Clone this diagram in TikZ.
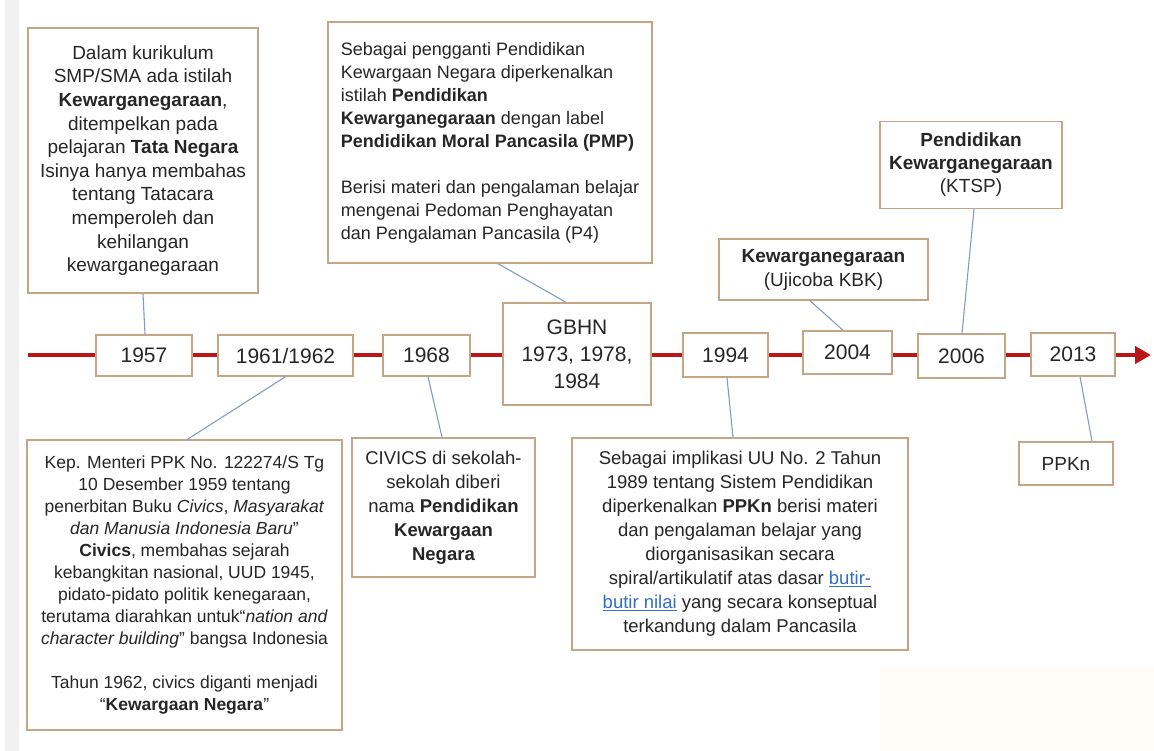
\documentclass[tikz,border=0pt]{standalone}
\usepackage{fontspec}
\setmainfont{Liberation Sans}
\usetikzlibrary{arrows.meta}
\definecolor{tlred}{RGB}{185,22,24}
\definecolor{boxline}{RGB}{196,166,134}
\definecolor{conn}{RGB}{128,158,188}
\definecolor{txt}{RGB}{38,38,38}
\definecolor{linkblue}{RGB}{51,110,200}
\newcommand{\lnk}[1]{\textcolor{linkblue}{\underline{#1}}}
\tikzset{
  box/.style={draw=boxline, line width=1.4pt, fill=white, text=txt, inner sep=0pt, align=center},
  yearbox/.style={box, minimum height=43pt, font=\fontsize{21}{26}\selectfont},
  note/.style={box, font=\fontsize{19}{23.6}\selectfont},
  conline/.style={draw=conn, line width=1.1pt},
  timeline/.style={draw=tlred, line width=4.5pt},
}
\begin{document}
\begin{tikzpicture}[x=1pt,y=-1pt]
\useasboundingbox (0,0) rectangle (1154,751);
\fill[white] (0,0) rectangle (1154,751);
\fill[gray!12] (5,0) rectangle (19,751);
\fill[orange!3] (880,668) rectangle (1154,751);

% timeline
\coordinate (tlstart) at (28,355);
\coordinate (tlend) at (1151,355);
\draw[timeline,-{Triangle[length=16pt,width=17pt]}] (tlstart) -- (tlend);

% year boxes
\node[yearbox, minimum width=96pt, minimum height=41pt] (y1957) at (144,355.5) {1957};
\node[yearbox, minimum width=135pt, minimum height=41pt] (y1961) at (285.5,355.5) {1961/1962};
\node[yearbox, minimum width=87pt, minimum height=41pt] (y1968) at (426.5,355.5) {1968};
\node[yearbox, minimum width=148pt, minimum height=102pt, font=\fontsize{21}{27}\selectfont] (gbhn) at (577,354) {GBHN\\1973, 1978,\\1984};
\node[yearbox, minimum width=85pt, minimum height=44pt] (y1994) at (725.5,355) {1994};
\node[yearbox, minimum width=89pt, minimum height=43pt] (y2004) at (847.5,352.5) {2004};
\node[yearbox, minimum width=87pt, minimum height=44pt] (y2006) at (961.5,356) {2006};
\node[yearbox, minimum width=84pt, minimum height=43pt] (y2013) at (1073,354.5) {2013};

% upper notes
\node[note, minimum width=230pt, minimum height=265pt] (A) at (143,160.5) {Dalam kurikulum\\SMP/SMA ada istilah\\\textbf{Kewarganegaraan},\\ditempelkan pada\\pelajaran \textbf{Tata Negara}\\Isinya hanya membahas\\tentang Tatacara\\memperoleh dan\\kehilangan\\kewarganegaraan};

\node[note, align=left, minimum width=324pt, minimum height=241pt, font=\fontsize{18}{23}\selectfont] (B) at (490,142.5) {Sebagai pengganti Pendidikan\\Kewargaan Negara diperkenalkan\\istilah \textbf{Pendidikan}\\\textbf{Kewarganegaraan} dengan label\\\textbf{Pendidikan Moral Pancasila (PMP)}\\[23pt]Berisi materi dan pengalaman belajar\\mengenai Pedoman Penghayatan\\dan Pengalaman Pancasila (P4)};

\node[note, minimum width=182pt, minimum height=87pt, font=\fontsize{19}{23}\selectfont] (C) at (971,165) {\textbf{Pendidikan}\\\textbf{Kewarganegaraan}\\(KTSP)};

\node[note, minimum width=209pt, minimum height=61pt, font=\fontsize{19}{24}\selectfont] (D) at (823.5,269.5) {\textbf{Kewarganegaraan}\\(Ujicoba KBK)};

% lower notes
\node[note, minimum width=315pt, minimum height=290pt, font=\fontsize{17.5}{22}\selectfont] (E) at (184.5,585) {Kep. Menteri PPK No. 122274/S Tg\\10 Desember 1959 tentang\\penerbitan Buku \textit{Civics}, \textit{Masyarakat}\\\textit{dan Manusia Indonesia Baru}”\\\textbf{Civics}, membahas sejarah\\kebangkitan nasional, UUD 1945,\\pidato-pidato politik kenegaraan,\\terutama diarahkan untuk“\textit{nation and}\\\textit{character building}” bangsa Indonesia\\[22pt]Tahun 1962, civics diganti menjadi\\“\textbf{Kewargaan Negara}”};

\node[note, minimum width=183pt, minimum height=139pt, font=\fontsize{18.5}{24}\selectfont] (F) at (443.5,507.5) {CIVICS di sekolah-\\sekolah diberi\\nama \textbf{Pendidikan}\\\textbf{Kewargaan}\\\textbf{Negara}};

\node[note, minimum width=336pt, minimum height=212pt, font=\fontsize{18.5}{24}\selectfont] (G) at (740,544) {Sebagai implikasi UU No. 2 Tahun\\1989 tentang Sistem Pendidikan\\diperkenalkan \textbf{PPKn} berisi materi\\dan pengalaman belajar yang\\diorganisasikan secara\\spiral/artikulatif atas dasar \lnk{butir-}\\\lnk{butir nilai} yang secara konseptual\\terkandung dalam Pancasila};

\node[note, minimum width=94pt, minimum height=43pt] (H) at (1066,463.5) {PPKn};

% connectors
\draw[conline] (A.south) -- ([xshift=1pt]y1957.north);
\draw[conline] ([xshift=0pt]y1961.south) -- ([xshift=3pt]E.north);
\draw[conline] ([xshift=1.5pt]y1968.south) -- ([xshift=-1.5pt]F.north);
\draw[conline] ([xshift=8pt]B.south) -- ([xshift=-11pt]gbhn.north);
\draw[conline] ([xshift=1.5pt]y1994.south) -- ([xshift=-7pt]G.north);
\draw[conline] ([xshift=-13.5pt]D.south) -- ([xshift=-4.5pt]y2004.north);
\draw[conline] ([xshift=3pt]C.south) -- ([xshift=0.5pt]y2006.north);
\draw[conline] ([xshift=7pt]y2013.south) -- ([xshift=26pt]H.north);
\end{tikzpicture}
\end{document}
